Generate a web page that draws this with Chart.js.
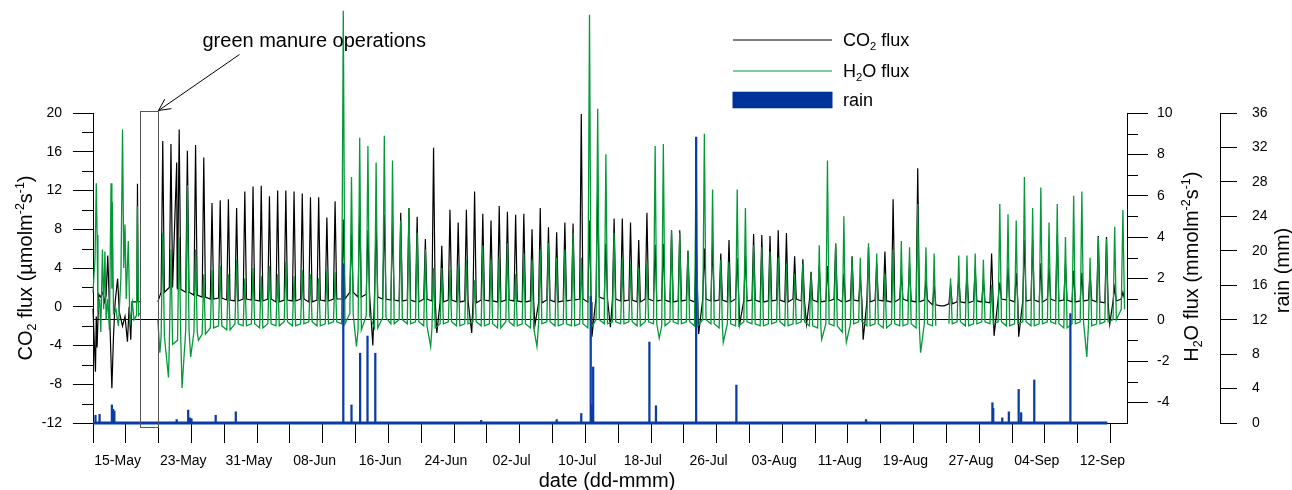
<!DOCTYPE html>
<html><head><meta charset="utf-8">
<script src="https://cdn.jsdelivr.net/npm/chart.js"></script>
<style>html,body{margin:0;padding:0;background:#fff;}canvas{display:block;}</style>
</head><body>
<div style="width:1292px;height:490px"><canvas id="c" width="1292" height="490"></canvas></div>
<script>
// ---------------- DATA ----------------
const firstDay = 132;                 // 12-May (day of year)
const lastDay = 258;                  // 15-Sep
const days = Array.from({length: 126}, (_, i) => firstDay + i);

// date axis
const dateTickDays = Array.from({length: 63}, (_, i) => 133 + 2 * i);   // positions used by the axis
const dateLabels = ['15-May','23-May','31-May','08-Jun','16-Jun','24-Jun','02-Jul','10-Jul',
                    '18-Jul','26-Jul','03-Aug','11-Aug','19-Aug','27-Aug','04-Sep','12-Sep'];
const dateLabelDays = [135,143,151,159,167,175,183,191,199,207,215,223,231,239,247,255];
const dateMajorDays = [133,137,141,145,149,153,157,161,165,169,173,177,181,185,189,193,
                       197,201,205,209,213,217,221,225,229,233,237,241,245,249,253,257];

// value axes
const co2Ticks = [-12,-8,-4,0,4,8,12,16,20];
const co2MinorTicks = [-10,-6,-2,2,6,10,14,18];
const h2oTicks = [-4,-2,0,2,4,6,8,10];
const h2oMinorTicks = [-3,-1,1,3,5,7,9];
const rainTicks = [0,4,8,12,16,20,24,28,32,36];

// CO2 flux: daily midday peak and night-time base (µmol m-2 s-1), day 132..257
const co2Peak = [
  null,null,null,null,null,null,null,null,17.1,16.8,
  18.3,16.1,16.7,15.4,10.7,11.0,11.1,10.2,11.9,12.4,
  12.5,11.4,12.0,12.0,11.9,11.7,11.3,11.3,9.2,10.9,
  9.0,7.5,10.1,7.9,8.8,9.5,8.7,9.7,10.2,9.3,
  7.0,16.4,6.3,10.0,8.7,10.0,11.9,9.6,8.9,10.4,
  9.8,9.5,9.6,8.0,10.2,8.2,7.7,8.7,8.6,19.9,
  8.9,12.5,6.5,9.1,9.1,8.7,6.9,9.7,6.4,6.5,
  7.9,7.9,5.8,5.8,6.0,6.5,5.5,6.9,5.0,5.3,
  7.5,7.4,7.3,7.9,7.6,5.2,4.9,3.6,4.2,4.2,
  6.5,3.4,5.2,3.0,6.2,4.5,5.7,11.1,3.5,4.5,
  14.3,2.7,2.2,0.1,2.3,3.0,3.2,4.0,2.8,5.5,
  2.5,4.0,3.5,6.9,6.9,4.5,4.0,7.4,4.5,3.7,
  3.5,3.5,7.3,7.2,2.0,1.5
];
const co2Base = [
  null,null,null,null,null,null,null,null,1.5,2.0,
  1.8,1.5,1.2,1.0,0.8,0.9,0.7,0.6,0.8,0.7,
  0.6,0.8,0.5,0.7,0.6,0.8,0.5,0.7,0.6,0.8,
  0.8,1.5,1.0,1.3,1.0,0.8,0.7,0.6,0.7,0.5,
  0.8,0.6,0.5,0.7,0.5,0.6,0.4,0.7,0.6,0.5,
  0.7,0.6,0.5,0.6,0.4,0.7,0.5,0.6,0.7,0.8,
  0.5,1.0,0.8,0.8,0.6,0.7,0.5,0.8,0.6,0.7,
  0.5,0.6,0.7,0.5,0.8,0.6,0.7,0.5,0.8,0.6,
  0.7,0.5,0.6,0.7,0.5,0.8,0.6,0.7,0.5,0.6,
  0.8,0.5,0.7,0.6,0.5,0.7,0.6,0.5,0.8,0.6,
  0.5,0.7,0.2,0.1,0.3,0.5,0.4,0.6,0.5,0.4,
  0.8,0.7,0.5,0.6,0.7,0.5,0.8,0.6,0.7,0.5,
  0.6,0.7,0.5,0.4,0.6,0.8
];
// irregular CO2 readings [day of year, value]
const co2Extra = [
  [132.0,-0.2],[132.3,-6.7],[132.4,-1.0],[132.5,-4.2],[132.7,1.3],[132.9,1.0],[133.2,1.5],
  [133.4,0.5],[133.6,1.2],[133.8,5.3],[134.0,0.0],[134.3,-8.4],[134.5,-3.0],[134.7,0.5],
  [135.0,2.9],[135.2,-0.5],[135.6,-2.0],[135.9,-1.0],[136.2,-3.6],[136.4,0.0],[136.6,-3.4],
  [136.75,0.5],[137.35,0.5],[137.42,12.7],[137.5,0.6],[137.7,0.5],
  [139.9,0.5],[142.2,14.9],[142.26,2.0],
  [166.1,-4.0],[173.9,-2.7],[178.15,-2.7],[185.85,-1.9],[192.8,-3.1],[195.05,-2.1],
  [205.8,-2.8],[210.8,-1.8],[218.95,-1.8],[225.85,-3.4],[241.8,-3.0],[244.8,-3.1],[255.9,-1.8]
];
const co2Breaks = [138.5];

// H2O flux: daily peak and base (mmol m-2 s-1), day 132..257
const h2oPeak = [
  null,null,null,null,null,null,null,null,4.2,3.4,
  4.0,6.5,3.4,2.2,2.4,2.6,2.2,2.9,2.0,2.5,
  2.1,2.6,2.2,2.8,2.1,2.4,2.2,2.0,2.4,2.3,
  14.95,6.9,8.8,8.4,7.6,8.9,7.7,4.8,5.4,4.2,
  3.4,2.5,2.5,2.4,2.6,2.9,1.9,3.6,2.9,3.0,
  3.7,2.2,3.2,2.9,3.4,3.7,3.0,3.4,4.2,3.0,
  14.75,10.2,8.0,4.2,3.0,2.7,2.5,2.8,8.4,8.5,
  4.3,4.2,3.3,8.3,9.0,6.3,2.9,2.8,6.3,5.4,
  3.6,3.5,3.3,3.0,2.7,2.2,2.7,2.2,3.6,7.7,
  3.7,5.0,3.0,3.0,3.7,3.2,2.2,3.4,3.8,3.5,
  5.6,3.5,3.2,null,2.0,3.1,3.1,3.2,2.9,1.7,
  5.6,5.1,4.8,6.9,5.4,6.4,4.7,5.6,4.0,6.0,
  6.2,3.0,4.0,3.9,4.5,5.3
];
const h2oBase = [
  null,null,null,null,null,null,null,null,-0.8,-1.2,
  -1.0,-0.5,-0.6,-0.7,-0.4,-0.3,-0.5,-0.2,-0.3,-0.2,
  -0.4,-0.2,-0.3,-0.1,-0.3,-0.2,-0.1,-0.3,-0.2,-0.1,
  -0.2,0.3,-0.5,0.2,-0.4,0.1,-0.2,0.0,-0.2,-0.1,
  -0.3,-0.4,-0.2,-0.1,-0.3,-0.2,-0.1,-0.3,-0.2,-0.4,
  -0.1,-0.3,-0.2,-0.4,-0.2,-0.1,-0.3,-0.2,-0.3,-0.2,
  -0.4,0.0,-0.2,-0.1,-0.2,-0.1,-0.3,-0.1,-0.2,-0.3,
  -0.1,-0.2,-0.1,-0.3,0.0,-0.2,-0.4,-0.2,-0.3,-0.1,
  -0.2,-0.3,-0.2,-0.1,-0.3,-0.2,-0.1,-0.3,-0.4,-0.2,
  -0.3,-0.6,-0.2,-0.1,-0.3,-0.2,-0.4,-0.2,-0.3,-0.2,
  -0.4,-0.2,-0.3,null,-0.2,-0.1,-0.3,-0.2,-0.1,-0.2,
  -0.1,-0.3,-0.2,-0.1,-0.3,-0.2,-0.1,-0.2,-0.4,-0.2,
  -0.1,-0.3,-0.2,-0.1,0.0,0.5
];
const h2oExtra = [
  [132.0,1.3],[132.25,3.0],[132.4,6.6],[132.5,4.1],[132.6,0.4],[132.8,1.0],[132.95,-0.6],
  [133.15,3.4],[133.3,0.5],[133.45,3.3],[133.6,0.0],[133.8,1.0],[134.0,-0.5],[134.2,6.6],
  [134.3,1.5],[134.35,5.7],[134.5,0.3],[134.8,0.5],[135.1,-0.3],[135.4,2.0],[135.6,9.2],
  [135.75,2.5],[135.9,4.6],[136.05,1.0],[136.3,3.8],[136.5,-0.3],[136.8,0.8],[137.0,0.0],
  [137.3,0.2],[137.4,5.5],[137.55,0.2],[137.72,0.3],
  [139.9,0.0],[140.15,-1.6],[141.2,-2.8],[142.85,-3.3],[143.9,-1.8],[144.85,-1.0],
  [164.1,-1.3],[173.15,-1.3],[186.1,-1.3],[201.0,-0.9],[208.8,-1.1],[220.8,-0.95],
  [223.8,-1.1],[232.85,-1.6],[253.1,-1.8]
];
const h2oBreaks = [138.5, 235.5];

// rain events [day of year, mm]
const rainEvents = [
  [132.3,0.9],[132.8,1.0],[134.3,2.1],[134.45,1.6],[134.6,1.4],[142.2,0.4],[143.6,1.5],
  [143.8,0.6],[144.0,0.5],[146.95,0.9],[149.4,1.3],[162.5,18.5],[163.5,2.1],[164.55,8.1],
  [165.45,10.1],[166.4,8.1],[179.3,0.3],[188.5,0.4],[191.5,1.1],[192.65,14.7],[192.8,2.1],
  [192.95,6.5],[199.8,9.4],[200.6,2.0],[205.5,33.2],[210.4,4.4],[226.2,0.4],[241.6,2.35],
  [241.7,1.7],[242.8,0.6],[243.6,1.3],[244.8,3.9],[245.1,1.2],[246.7,5.0],[251.1,12.7]
];
const rainRecordStart = 132.0;
const rainRecordEnd = 255.6;

// green manure operations period (box)
const manureStart = 137.73;
const manureEnd = 139.93;
const manureBoxTop = 20.2;     // in CO2 units
const manureBoxBottom = -12.45;

// ---------------- CHART ----------------
const FONT = '"Liberation Sans", Arial, Helvetica, sans-serif';
Chart.defaults.font.family = FONT;
Chart.defaults.color = '#000';

const BLACK = '#000000';
const GREEN = '#06993a';
const BLUE = '#0b3ca3';

function dailyPoints(peak, base, extra, breaks) {
  const pts = [];
  days.forEach((d, i) => {
    if (peak[i] === null || base[i] === null) return;
    pts.push({x: d + 0.3, y: base[i]}, {x: d + 0.5, y: peak[i]}, {x: d + 0.7, y: base[i]});
  });
  extra.forEach(p => pts.push({x: p[0], y: p[1]}));
  breaks.forEach(b => pts.push({x: b, y: null}));
  return pts.sort((a, b) => a.x - b.x);
}

function drawRich(ctx, parts, x, y, size, align) {
  const widths = parts.map(([t, m]) => {
    ctx.font = (m ? size * 0.62 : size) + 'px ' + FONT;
    return ctx.measureText(t).width;
  });
  const total = widths.reduce((a, b) => a + b, 0);
  let cx = align === 'center' ? x - total / 2 : x;
  ctx.textAlign = 'left';
  ctx.textBaseline = 'alphabetic';
  parts.forEach(([t, m], i) => {
    ctx.font = (m ? size * 0.62 : size) + 'px ' + FONT;
    const dy = m === -1 ? size * 0.22 : (m === 1 ? -size * 0.4 : 0);
    ctx.fillText(t, cx, y + dy);
    cx += widths[i];
  });
}

const decor = {
  id: 'decor',
  afterDraw(chart) {
    const {ctx, scales} = chart;
    const sx = scales.x, sy = scales.y, sy2 = scales.y2;
    ctx.save();
    ctx.strokeStyle = '#000';
    ctx.lineWidth = 1;
    // minor ticks
    co2MinorTicks.forEach(v => {
      const y = Math.round(sy.getPixelForValue(v)) + 0.5;
      ctx.beginPath(); ctx.moveTo(sy.right - 11, y); ctx.lineTo(sy.right, y); ctx.stroke();
    });
    h2oMinorTicks.forEach(v => {
      const y = Math.round(sy2.getPixelForValue(v)) + 0.5;
      ctx.beginPath(); ctx.moveTo(sy2.left, y); ctx.lineTo(sy2.left + 11, y); ctx.stroke();
    });
    // green manure box
    const bx0 = Math.round(sx.getPixelForValue(manureStart)) + 0.5;
    const bx1 = Math.round(sx.getPixelForValue(manureEnd)) + 0.5;
    const by0 = Math.round(sy.getPixelForValue(manureBoxTop)) + 0.5;
    const by1 = Math.round(sy.getPixelForValue(manureBoxBottom)) + 0.5;
    ctx.strokeStyle = '#555';
    ctx.strokeRect(bx0, by0, bx1 - bx0, by1 - by0);
    // annotation arrow
    ctx.strokeStyle = '#000';
    const ax0 = 239.5, ay0 = 54.5, ax1 = bx1, ay1 = by0 - 1;
    ctx.beginPath(); ctx.moveTo(ax0, ay0); ctx.lineTo(ax1, ay1); ctx.stroke();
    const ang = Math.atan2(ay0 - ay1, ax0 - ax1);
    [0.46, -0.46].forEach(da => {
      ctx.beginPath(); ctx.moveTo(ax1, ay1);
      ctx.lineTo(ax1 + 13 * Math.cos(ang + da), ay1 + 13 * Math.sin(ang + da)); ctx.stroke();
    });
    ctx.fillStyle = '#000';
    ctx.font = '20px ' + FONT;
    ctx.textAlign = 'left'; ctx.textBaseline = 'alphabetic';
    ctx.fillText('green manure operations', 202.5, 46.7);
    // legend
    ctx.lineWidth = 1;
    ctx.strokeStyle = BLACK;
    ctx.beginPath(); ctx.moveTo(733, 40); ctx.lineTo(832, 40); ctx.stroke();
    ctx.strokeStyle = GREEN;
    ctx.beginPath(); ctx.moveTo(733, 71); ctx.lineTo(832, 71); ctx.stroke();
    ctx.fillStyle = '#003399';
    ctx.fillRect(732.5, 91.7, 100, 16.6);
    ctx.fillStyle = '#000';
    drawRich(ctx, [['CO', 0], ['2', -1], [' flux', 0]], 843, 46.4, 18, 'left');
    drawRich(ctx, [['H', 0], ['2', -1], ['O flux', 0]], 843, 77, 18, 'left');
    drawRich(ctx, [['rain', 0]], 843, 106, 18, 'left');
    // axis titles
    drawRich(ctx, [['date (dd-mmm)', 0]], 607, 486.7, 20, 'center');
    const rot = (x, y, parts) => {
      ctx.save(); ctx.translate(x, y); ctx.rotate(-Math.PI / 2);
      drawRich(ctx, parts, 0, 0, 20, 'center'); ctx.restore();
    };
    rot(31.5, 268, [['CO', 0], ['2', -1], [' flux (\u00b5molm', 0], ['-2', 1], ['s', 0], ['-1', 1], [')', 0]]);
    rot(1197.5, 266.7, [['H', 0], ['2', -1], ['O flux (mmolm', 0], ['-2', 1], ['s', 0], ['-1', 1], [')', 0]]);
    rot(1289, 270.5, [['rain (mm)', 0]]);
    ctx.restore();
  }
};

const tickFont = {family: FONT, size: 14};

new Chart(document.getElementById('c'), {
  type: 'line',
  data: {
    datasets: [
      {
        type: 'bar', label: 'rain', yAxisID: 'y3', order: 0,
        data: rainEvents.map(([x, y]) => ({x, y})),
        backgroundColor: BLUE, borderWidth: 0, barThickness: 1.6, clip: false
      },
      {
        type: 'line', label: 'rain record', yAxisID: 'y3', order: 0,
        data: [{x: rainRecordStart, y: 0}, {x: rainRecordEnd, y: 0}],
        borderColor: BLUE, borderWidth: 3, pointRadius: 0, clip: false
      },
      {
        type: 'line', label: 'H2O flux', yAxisID: 'y2', order: 1,
        data: dailyPoints(h2oPeak, h2oBase, h2oExtra, h2oBreaks),
        borderColor: GREEN, borderWidth: 1.3, pointRadius: 0, tension: 0, spanGaps: false, clip: false
      },
      {
        type: 'line', label: 'CO2 flux', yAxisID: 'y', order: 2,
        data: dailyPoints(co2Peak, co2Base, co2Extra, co2Breaks),
        borderColor: BLACK, borderWidth: 1.2, pointRadius: 0, tension: 0, spanGaps: false, clip: false
      }
    ]
  },
  options: {
    responsive: false, animation: false, devicePixelRatio: 1,
    layout: {padding: {top: 113, left: 0, right: 0, bottom: 0}},
    plugins: {legend: {display: false}, tooltip: {enabled: false}},
    scales: {
      x: {
        type: 'linear', min: firstDay, max: lastDay, offset: false,
        afterBuildTicks: s => { s.ticks = dateTickDays.map(v => ({value: v})); },
        afterFit: s => { s.height = 67; },
        grid: {
          drawOnChartArea: false, drawTicks: true, tickLength: 20,
          color: 'rgba(0,0,0,0)',
          tickColor: c => (c.tick && dateMajorDays.includes(c.tick.value)) ? '#000' : 'rgba(0,0,0,0)'
        },
        border: {display: true, color: '#000', width: 1},
        ticks: {
          autoSkip: false, maxRotation: 0, minRotation: 0, padding: 10, font: tickFont, color: '#000',
          callback: v => { const k = dateLabelDays.indexOf(v); return k >= 0 ? dateLabels[k] : ''; }
        }
      },
      y: {
        position: 'left', min: -12, max: 20,
        afterBuildTicks: s => { s.ticks = co2Ticks.map(v => ({value: v})); },
        afterFit: s => { s.width = 93; },
        grid: {drawOnChartArea: false, tickLength: 20, tickColor: '#000'},
        border: {display: true, color: '#000', width: 1},
        ticks: {padding: 11, font: tickFont, color: '#000', callback: v => String(v)}
      },
      y2: {
        position: 'right', min: -5, max: 10, weight: 0,
        afterBuildTicks: s => { s.ticks = h2oTicks.map(v => ({value: v})); },
        afterFit: s => { s.width = 93; },
        grid: {
          drawOnChartArea: true, tickLength: 21, tickColor: '#000', lineWidth: 1,
          color: c => (c.tick && c.tick.value === 0) ? '#000' : 'rgba(0,0,0,0)'
        },
        border: {display: true, color: '#000', width: 1},
        ticks: {padding: 9, font: tickFont, color: '#000', callback: v => String(v)}
      },
      y3: {
        position: 'right', min: 0, max: 36, weight: 1,
        afterBuildTicks: s => { s.ticks = rainTicks.map(v => ({value: v})); },
        afterFit: s => { s.width = 72; },
        grid: {drawOnChartArea: false, tickLength: 17, tickColor: '#000'},
        border: {display: true, color: '#000', width: 1},
        ticks: {padding: 15, font: tickFont, color: '#000', callback: v => String(v)}
      }
    }
  },
  plugins: [decor]
});
</script>
</body></html>
